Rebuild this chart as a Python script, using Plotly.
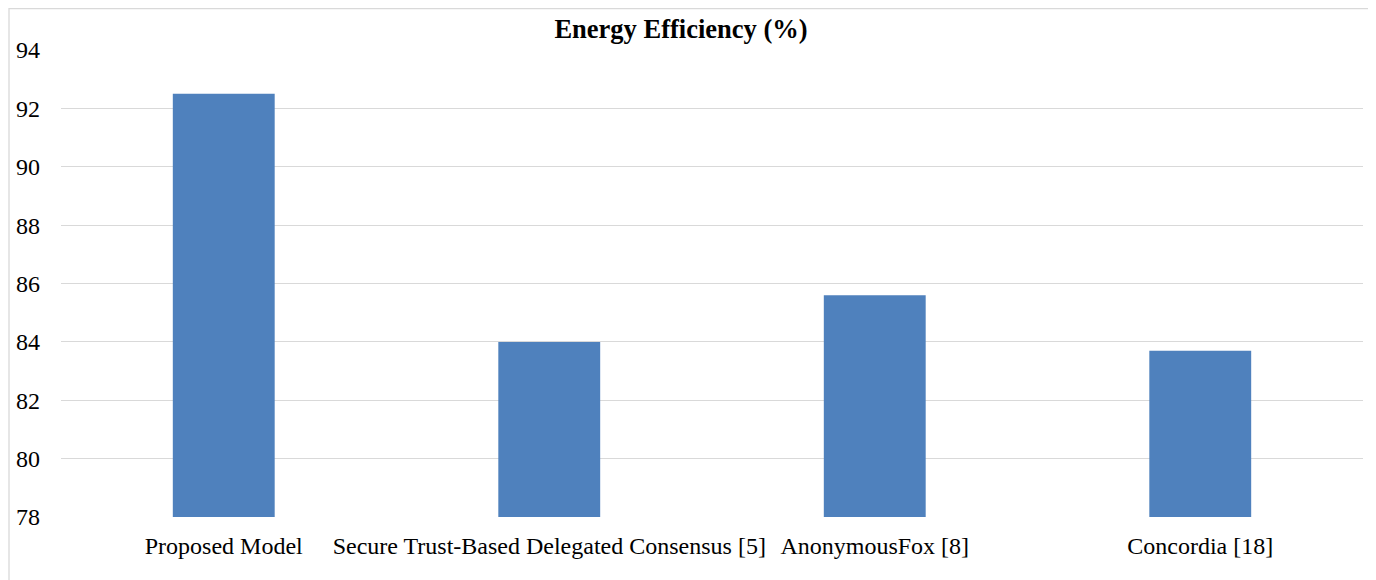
import plotly.graph_objects as go

categories = ["Proposed Model", "Secure Trust-Based Delegated Consensus [5]", "AnonymousFox [8]", "Concordia [18]"]
values = [92.5, 84.0, 85.6, 83.7]
y_ticks = [78, 80, 82, 84, 86, 88, 90, 92, 94]

# page is offset by the 8px default body margin
OFF = 8
W, H = 1376, 580
ml, mt = 61 - OFF, 50 - OFF
plot_right, plot_bottom = 1363 - OFF, 517 - OFF
mr, mb = W - plot_right, H - plot_bottom
pw, ph = plot_right - ml, plot_bottom - mt

fig = go.Figure(go.Bar(x=categories, y=values, marker=dict(color="#4F81BD", line=dict(width=0)),
                       hoverinfo="x+y"))

def px_to_paper_x(px):
    return (px - OFF - ml) / pw

def px_to_paper_y(py):
    return 1 - (py - OFF - mt) / ph

FONT = "Liberation Serif, Times New Roman, serif"

fig.update_layout(
    width=W, height=H,
    margin=dict(l=ml, r=mr, t=mt, b=mb, autoexpand=False),
    paper_bgcolor="white", plot_bgcolor="white",
    bargap=0.687,
    showlegend=False,
    font=dict(family=FONT, size=24, color="#000000"),
    title=dict(text="<b>Energy Efficiency (%)</b>", x=(681 - OFF) / W, xanchor="center",
               y=1 - (29 - OFF) / H, yanchor="middle", font=dict(size=26.5, family=FONT)),
    xaxis=dict(showgrid=False, showline=False, ticks="", ticklabelstandoff=12, tickangle=0,
               tickfont=dict(size=24)),
    yaxis=dict(range=[78, 94], tickvals=y_ticks, showgrid=True, gridcolor="#D9D9D9", gridwidth=1.3,
               showline=False, zeroline=False, ticks="", ticklabelstandoff=20,
               tickfont=dict(size=24)),
    shapes=[dict(type="rect", xref="paper", yref="paper",
                 x0=px_to_paper_x(9), x1=px_to_paper_x(1370),
                 y0=px_to_paper_y(620), y1=px_to_paper_y(8.7),
                 line=dict(color="#D9D9D9", width=1.3), fillcolor="rgba(0,0,0,0)", layer="below")],
)

fig.write_html("out.html")
